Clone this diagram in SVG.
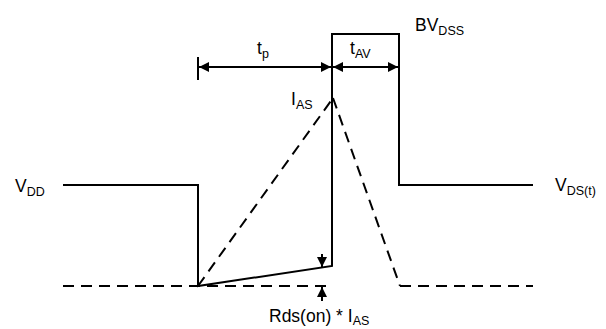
<svg xmlns="http://www.w3.org/2000/svg" width="606" height="329" viewBox="0 0 606 329">
<defs>
<marker id="ah" viewBox="0 0 10 10" refX="10" refY="5" markerWidth="10" markerHeight="10" markerUnits="userSpaceOnUse" orient="auto-start-reverse">
<path d="M0,0 L10,5 L0,10 z" fill="#000"/>
</marker>
</defs>
<style>
.s{fill:none;stroke:#000;stroke-width:2}
.d{fill:none;stroke:#000;stroke-width:2;stroke-dasharray:11,7}
.a{fill:none;stroke:#000;stroke-width:2;marker-end:url(#ah)}
.ab{fill:none;stroke:#000;stroke-width:2;marker-start:url(#ah);marker-end:url(#ah)}
text{font-family:"Liberation Sans",Arial,sans-serif;font-size:17.5px;fill:#000}
.sub{font-size:12.5px}
</style>
<g id="connectors">
<path class="s" d="M63,185 H198 V286 L332,266 V34 H399 V185 H533"/>
<path class="d" d="M63,286 H332"/>
<path class="d" d="M198,286 L333,98"/>
<path class="d" d="M333,98 L400,286"/>
<path class="d" d="M400,286 H533"/>
<path class="s" d="M198,57 V80"/>
<path class="ab" d="M199,67 H331"/>
<path class="ab" d="M333,67 H398"/>
<path class="a" d="M322,254 V267"/>
<path class="a" d="M322,301 V287"/>
</g>
<g id="vdd"><text x="15" y="192">V<tspan class="sub" dy="4">DD</tspan></text></g>
<g id="vds"><text x="555" y="191">V<tspan class="sub" dy="4">DS(t)</tspan></text></g>
<g id="bvdss"><text x="415" y="31">BV<tspan class="sub" dy="4">DSS</tspan></text></g>
<g id="tp"><text x="257" y="54">t<tspan class="sub" dy="4">p</tspan></text></g>
<g id="tav"><text x="350" y="54">t<tspan class="sub" dy="4">AV</tspan></text></g>
<g id="ias"><text x="291" y="105">I<tspan class="sub" dy="4">AS</tspan></text></g>
<g id="rds"><text x="269" y="322">Rds(on) * I<tspan class="sub" dy="3">AS</tspan></text></g>
</svg>
